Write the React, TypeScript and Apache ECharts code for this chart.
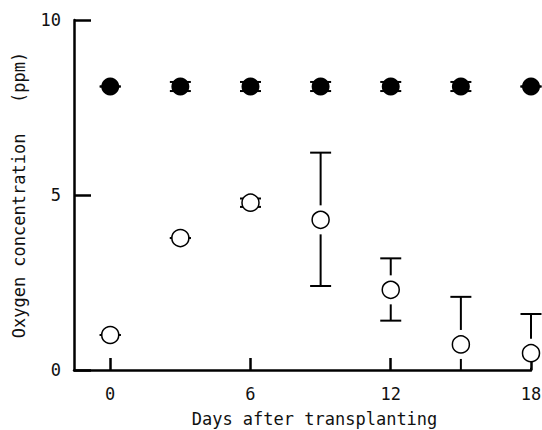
import React, { useEffect, useRef } from "react";
import * as echarts from "echarts";

const days = [0, 3, 6, 9, 12, 15, 18];
const controlMean = [8.1, 8.1, 8.1, 8.1, 8.1, 8.1, 8.1];
const controlUpper = [8.1, 8.23, 8.23, 8.23, 8.23, 8.23, 8.1];
const controlLower = [8.1, 7.97, 7.97, 7.97, 7.97, 7.97, 8.1];
const treatMean = [1.0, 3.77, 4.78, 4.29, 2.29, 0.73, 0.48];
const treatUpper = [1.0, 3.77, 4.9, 6.21, 3.19, 2.09, 1.6];
const treatLower = [1.0, 3.77, 4.66, 2.4, 1.41, 0, 0];
const xTicks = [0, 6, 12, 18];
const yTitle = "Oxygen concentration\u00a0\u00a0\u00a0(ppm)";
const xTitle = "Days after transplanting";

const FONT = "DejaVu Sans Mono";

function makeErrRender(radius: number) {
  const gap = 6;
  const capHalf = 10.5;
  return (params: any, api: any) => {
    const x = api.value(0);
    const lo = api.value(1);
    const hi = api.value(2);
    const mean = api.value(3);
    const pc = api.coord([x, mean]);
    const ph = api.coord([x, hi]);
    const pl = api.coord([x, lo]);
    const style = { stroke: "#000", lineWidth: 2 };
    const children: any[] = [];
    children.push({
      type: "line",
      shape: { x1: ph[0] - capHalf, y1: ph[1], x2: ph[0] + capHalf, y2: ph[1] },
      style,
    });
    if (pc[1] - ph[1] > radius + gap) {
      children.push({
        type: "line",
        shape: { x1: ph[0], y1: ph[1], x2: ph[0], y2: pc[1] - radius - gap },
        style,
      });
    }
    if (lo > 0) {
      children.push({
        type: "line",
        shape: { x1: pl[0] - capHalf, y1: pl[1], x2: pl[0] + capHalf, y2: pl[1] },
        style,
      });
    }
    if (pl[1] - pc[1] > radius + gap) {
      children.push({
        type: "line",
        shape: { x1: pl[0], y1: pc[1] + radius + gap, x2: pl[0], y2: pl[1] },
        style,
      });
    }
    return { type: "group", children };
  };
}

export default function App() {
  const ref = useRef<HTMLDivElement>(null);
  useEffect(() => {
    if (!ref.current) return;
    const chart = echarts.init(ref.current, null, { renderer: "svg" });
    const controlErrData = days.map((d, i) => [d, controlLower[i], controlUpper[i], controlMean[i]]);
    const treatErrData = days.map((d, i) => [d, treatLower[i], treatUpper[i], treatMean[i]]);
    chart.setOption({
      animation: false,
      backgroundColor: "#fff",
      grid: { left: 74, right: 11, top: 20, bottom: 60, containLabel: false, outerBoundsMode: "none" },
      xAxis: {
        type: "value",
        min: -1.55,
        max: 18,
        name: xTitle,
        nameLocation: "middle",
        nameGap: 40,
        nameTextStyle: { fontFamily: FONT, fontSize: 17, color: "#111", padding: [0, 0, 0, 24] },
        axisLine: { show: true, onZero: false, lineStyle: { color: "#000", width: 2.5 } },
        axisTick: { show: true, inside: true, length: 12, customValues: xTicks, lineStyle: { color: "#000", width: 2.5 } },
        axisLabel: { customValues: xTicks, fontFamily: FONT, fontSize: 17, color: "#111", margin: 15 },
        splitLine: { show: false },
      },
      yAxis: {
        type: "value",
        min: 0,
        max: 10,
        interval: 5,
        name: yTitle,
        nameLocation: "middle",
        nameGap: 47,
        nameTextStyle: { fontFamily: FONT, fontSize: 17, color: "#111" },
        axisLine: { show: true, onZero: false, lineStyle: { color: "#000", width: 2.5 } },
        axisTick: { show: true, inside: true, length: 17, lineStyle: { color: "#000", width: 2.5 } },
        axisLabel: { fontFamily: FONT, fontSize: 17, color: "#111", margin: 13 },
        splitLine: { show: false },
      },
      series: [
        {
          type: "custom",
          renderItem: makeErrRender(9),
          data: controlErrData,
          z: 1,
          clip: false,
        },
        {
          type: "custom",
          renderItem: makeErrRender(8.5),
          data: treatErrData,
          z: 1,
          clip: false,
        },
        {
          type: "scatter",
          data: days.map((d, i) => [d, controlMean[i]]),
          symbol: "circle",
          symbolSize: 18,
          itemStyle: { color: "#000", opacity: 1 },
          z: 5,
        },
        {
          type: "scatter",
          data: days.map((d, i) => [d, treatMean[i]]),
          symbol: "circle",
          symbolSize: 17,
          itemStyle: { color: "#fff", borderColor: "#000", borderWidth: 1.5, opacity: 1 },
          z: 5,
        },
      ],
    });
    return () => chart.dispose();
  }, []);
  return <div ref={ref} style={{ width: 542, height: 430, position: "absolute", left: 0, top: 0 }} />;
}
